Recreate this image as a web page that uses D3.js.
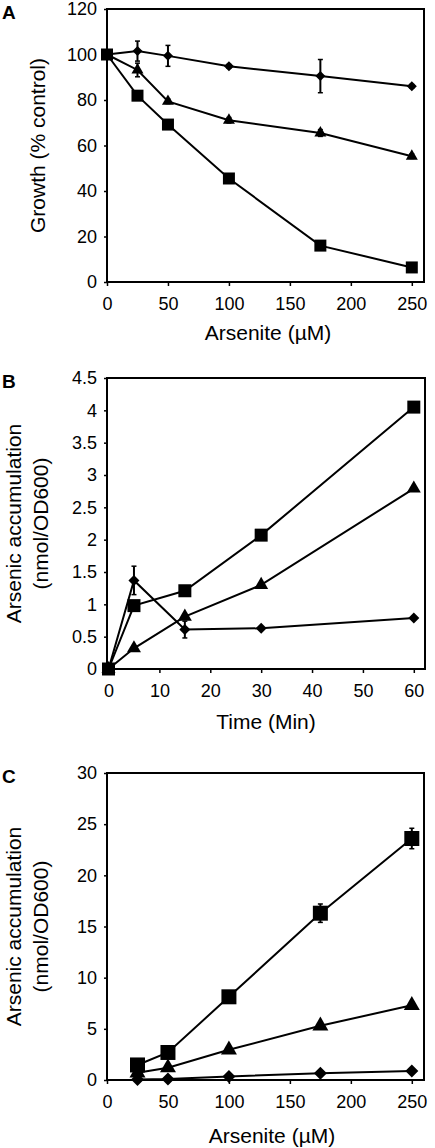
<!DOCTYPE html>
<html>
<head>
<meta charset="utf-8">
<script src="https://cdn.jsdelivr.net/npm/d3@7"></script>
<style>
  html, body { margin: 0; padding: 0; background: #fff; }
  svg { display: block; font-family: "Liberation Sans", Arial, sans-serif; }
</style>
</head>
<body>
<script>
// ---------- Data ----------
// Panel A: Growth (% control) vs arsenite (µM)
const aConc = [0, 25, 50, 100, 175, 250];
const aDiamond = [100, 101.5, 99.4, 94.8, 90.5, 86.0];
const aDiamondErr = [0, 4.4, 4.6, 0.8, 7.3, 0.8];
const aTriangle = [100, 93.2, 79.4, 71.1, 65.5, 55.3];
const aTriangleErr = [0, 3.0, 1.0, 1.2, 1.5, 1.0];
const aSquare = [100, 81.9, 69.2, 45.5, 16.0, 6.4];
const aSquareErr = [0, 0.8, 0.8, 0.8, 0.8, 0.5];
const aYTicks = [0, 20, 40, 60, 80, 100, 120];
const aXTicks = [0, 50, 100, 150, 200, 250];

// Panel B: Arsenic accumulation vs time (min)
const bTime = [0, 5, 15, 30, 60];
const bSquare = [0, 0.98, 1.21, 2.07, 4.05];
const bSquareErr = [0, 0.05, 0.03, 0.03, 0.03];
const bTriangle = [0, 0.32, 0.81, 1.30, 2.79];
const bTriangleErr = [0, 0.03, 0.03, 0.03, 0.03];
const bDiamond = [0, 1.37, 0.61, 0.63, 0.79];
const bDiamondErr = [0, 0.22, 0.13, 0.02, 0.02];
const bYTicks = [0, 0.5, 1, 1.5, 2, 2.5, 3, 3.5, 4, 4.5];
const bXTicks = [0, 10, 20, 30, 40, 50, 60];

// Panel C: Arsenic accumulation vs arsenite (µM)
const cConc = [25, 50, 100, 175, 250];
const cSquare = [1.47, 2.69, 8.13, 16.3, 23.6];
const cSquareErr = [0.2, 0.3, 0.3, 0.9, 1.0];
const cTriangle = [0.7, 1.2, 2.95, 5.3, 7.3];
const cTriangleErr = [0.05, 0.1, 0.1, 0.15, 0.2];
const cDiamond = [0.05, 0.1, 0.35, 0.65, 0.87];
const cDiamondErr = [0.02, 0.02, 0.05, 0.05, 0.05];
const cYTicks = [0, 5, 10, 15, 20, 25, 30];
const cXTicks = [0, 50, 100, 150, 200, 250];

// ---------- Drawing ----------
const W = 435, H = 1148;
const svg = d3.select("body").append("svg").attr("width", W).attr("height", H);

function drawPanel(p) {
  const g = svg.append("g");
  const x = d3.scaleLinear().domain(p.xDomain).range([p.left, p.right]);
  const y = d3.scaleLinear().domain(p.yDomain).range([p.bottom, p.top]);

  // y axis
  const ya = g.append("g").attr("transform", `translate(${p.left},0)`)
    .call(d3.axisLeft(y).tickValues(p.yTicks).tickSize(3).tickPadding(7).tickFormat(d => String(d)));
  ya.select(".domain").remove();
  ya.selectAll("text").attr("font-size", 18).attr("fill", "#000").attr("font-family", "Liberation Sans, Arial, sans-serif");
  ya.selectAll("line").attr("stroke", "#000").attr("stroke-width", 1.5);

  // x axis
  const xa = g.append("g").attr("transform", `translate(0,${p.bottom})`)
    .call(d3.axisBottom(x).tickValues(p.xTicks).tickSize(4).tickPadding(11).tickFormat(d => String(d)));
  xa.select(".domain").remove();
  xa.selectAll("text").attr("font-size", 18).attr("fill", "#000").attr("font-family", "Liberation Sans, Arial, sans-serif");
  xa.selectAll("line").attr("stroke", "#000").attr("stroke-width", 1.5);

  // box
  g.append("rect").attr("x", p.left).attr("y", p.top)
    .attr("width", p.right - p.left).attr("height", p.bottom - p.top)
    .attr("fill", "none").attr("stroke", "#000").attr("stroke-width", 2);

  const line = d3.line().x(d => x(d.x)).y(d => y(d.y));

  p.series.forEach(s => {
    const pts = p.xs.map((v, i) => ({ x: v, y: s.values[i], e: s.err[i] }));
    g.append("path").datum(pts).attr("d", line)
      .attr("fill", "none").attr("stroke", "#000").attr("stroke-width", 2);
    // error bars
    const eg = g.append("g");
    pts.filter(d => d.e > 0).forEach(d => {
      eg.append("line").attr("x1", x(d.x)).attr("x2", x(d.x))
        .attr("y1", y(d.y - d.e)).attr("y2", y(d.y + d.e))
        .attr("stroke", "#000").attr("stroke-width", 2);
      [d.y - d.e, d.y + d.e].forEach(v => {
        eg.append("line").attr("x1", x(d.x) - 2.5).attr("x2", x(d.x) + 2.5)
          .attr("y1", y(v)).attr("y2", y(v))
          .attr("stroke", "#000").attr("stroke-width", 1.5);
      });
    });
  });

  p.series.forEach(s => {
    const pts = p.xs.map((v, i) => ({ x: v, y: s.values[i] }));
    let sym, rot = 0;
    const w = s.size;
    if (s.shape === "square") sym = d3.symbol().type(d3.symbolSquare).size(w * w);
    else if (s.shape === "diamond") { sym = d3.symbol().type(d3.symbolSquare).size(w * w / 2); rot = 45; }
    else sym = d3.symbol().type(d3.symbolTriangle).size(Math.sqrt(3) / 4 * w * w);
    g.append("g").selectAll("path").data(pts).join("path")
      .attr("d", sym)
      .attr("transform", d => `translate(${x(d.x)},${y(d.y)}) rotate(${rot})`)
      .attr("fill", "#000");
  });

  // panel letter
  g.append("text").attr("x", 2).attr("y", p.letterY).text(p.letter)
    .attr("font-size", 19).attr("font-weight", "bold").attr("font-family", "Arial, Liberation Sans, sans-serif");

  // x title
  g.append("text").attr("x", p.xTitleX).attr("y", p.xTitleY).attr("text-anchor", "middle")
    .attr("font-size", 21).text(p.xTitle);

  // y title (one or two lines)
  const cy = (p.top + p.bottom) / 2;
  p.yTitle.forEach((t, i) => {
    g.append("text").attr("transform", `translate(${p.yTitleX[i]},${cy}) rotate(-90)`)
      .attr("text-anchor", "middle").attr("dy", "0.35em").attr("font-size", 21).text(t);
  });
}

drawPanel({
  letter: "A", letterY: 19,
  left: 107, right: 424, top: 9, bottom: 282,
  xDomain: [0, 260], yDomain: [0, 120],
  xTicks: aXTicks, yTicks: aYTicks, xs: aConc,
  xTitle: "Arsenite (µM)", xTitleX: 268, xTitleY: 340,
  yTitle: ["Growth (% control)"], yTitleX: [38],
  series: [
    { shape: "diamond", values: aDiamond, err: aDiamondErr, size: 10 },
    { shape: "triangle", values: aTriangle, err: aTriangleErr, size: 12 },
    { shape: "square", values: aSquare, err: aSquareErr, size: 12 }
  ]
});

drawPanel({
  letter: "B", letterY: 388,
  left: 107, right: 425, top: 378, bottom: 669,
  xDomain: [-0.3, 62.2], yDomain: [0, 4.5],
  xTicks: bXTicks, yTicks: bYTicks, xs: bTime,
  xTitle: "Time (Min)", xTitleX: 266, xTitleY: 729,
  yTitle: ["Arsenic accumulation", "(nmol/OD600)"], yTitleX: [14, 41],
  series: [
    { shape: "diamond", values: bDiamond, err: bDiamondErr, size: 11 },
    { shape: "triangle", values: bTriangle, err: bTriangleErr, size: 14 },
    { shape: "square", values: bSquare, err: bSquareErr, size: 13 }
  ]
});

drawPanel({
  letter: "C", letterY: 783,
  left: 107, right: 424, top: 773, bottom: 1080,
  xDomain: [0, 260], yDomain: [0, 30],
  xTicks: cXTicks, yTicks: cYTicks, xs: cConc,
  xTitle: "Arsenite (µM)", xTitleX: 272, xTitleY: 1143,
  yTitle: ["Arsenic accumulation", "(nmol/OD600)"], yTitleX: [14, 41],
  series: [
    { shape: "diamond", values: cDiamond, err: cDiamondErr, size: 13 },
    { shape: "triangle", values: cTriangle, err: cTriangleErr, size: 16 },
    { shape: "square", values: cSquare, err: cSquareErr, size: 15 }
  ]
});
</script>
</body>
</html>
